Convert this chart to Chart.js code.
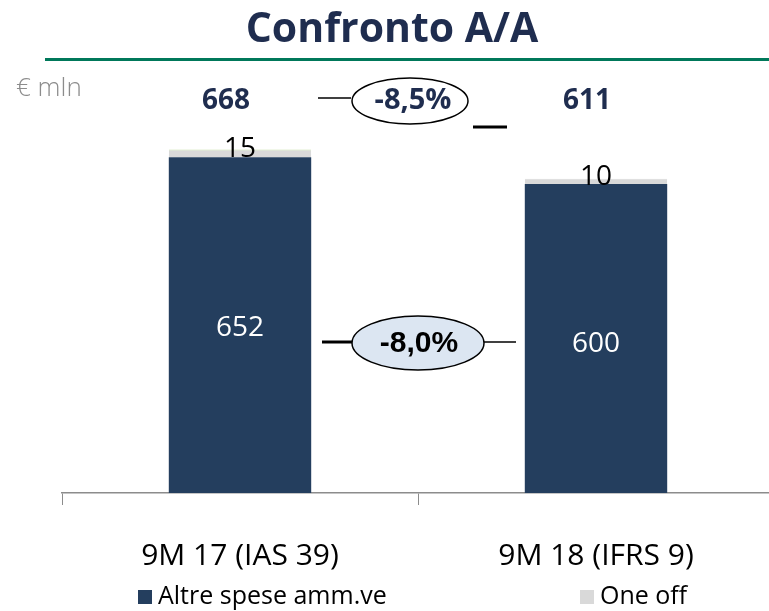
<!DOCTYPE html>
<html lang="it">
<head>
  <meta charset="UTF-8">
  <title>Confronto A/A</title>
  <script src="https://cdn.jsdelivr.net/npm/chart.js"></script>
  <style>
    html, body {
      margin: 0;
      padding: 0;
      background: #ffffff;
      overflow: hidden;
    }
    .wrap {
      width: 780px;
      height: 611px;
    }
  </style>
</head>
<body>
  <div class="wrap">
    <canvas id="chart" width="780" height="611"></canvas>
  </div>

  <script>
    // data
    const categories = ['9M 17 (IAS 39)', '9M 18 (IFRS 9)'];
    const altreSpese = [652, 600];
    const oneOff = [15, 10];
    const totals = [668, 611];
    const deltaTotal = '-8,5%';
    const deltaAltre = '-8,0%';

    const NAVY = '#243e5e';
    const GREY = '#d9d9d9';
    const FONT = '"Open Sans", "DejaVu Sans", sans-serif';

    function ellipse(ctx, x, y, rx, ry, fill) {
      ctx.beginPath();
      ctx.ellipse(x, y, rx, ry, 0, 0, Math.PI * 2);
      ctx.fillStyle = fill;
      ctx.fill();
      ctx.lineWidth = 1.5;
      ctx.strokeStyle = '#000';
      ctx.stroke();
    }

    function line(ctx, x1, y1, x2, y2, w) {
      ctx.beginPath();
      ctx.moveTo(x1, y1);
      ctx.lineTo(x2, y2);
      ctx.lineWidth = w;
      ctx.strokeStyle = '#000';
      ctx.stroke();
    }

    const decorations = {
      id: 'decorations',
      afterDraw(chart) {
        const ctx = chart.ctx;
        const a = chart.getDatasetMeta(0).data;
        const b = chart.getDatasetMeta(1).data;
        ctx.save();

        // title + green rule
        ctx.fillStyle = '#1f2d4f';
        ctx.font = 'bold 41px ' + FONT;
        ctx.textAlign = 'center';
        ctx.textBaseline = 'middle';
        ctx.fillText('Confronto A/A', 392, 30);
        ctx.fillStyle = '#00785a';
        ctx.fillRect(45, 58, 740, 3);

        // unit
        ctx.fillStyle = '#8c8c8c';
        ctx.font = '300 26px ' + FONT;
        ctx.textAlign = 'left';
        ctx.fillText('€ mln', 16, 89);

        // values inside bars
        ctx.textAlign = 'center';
        ctx.font = '28px ' + FONT;
        a.forEach((bar, i) => {
          ctx.fillStyle = '#ffffff';
          ctx.fillText(String(altreSpese[i]), bar.x, (bar.y + bar.base) / 2 + 3 + i * 3);
        });
        b.forEach((bar, i) => {
          ctx.fillStyle = '#000000';
          ctx.fillText(String(oneOff[i]), bar.x, bar.y + (i === 0 ? 0 : -2));
        });

        // totals
        ctx.fillStyle = '#1f2d4f';
        ctx.font = 'bold 28px ' + FONT;
        ctx.fillText(String(totals[0]), a[0].x - 14, 101);
        ctx.fillText(String(totals[1]), a[1].x - 9, 101);

        // -8,5% bubble
        line(ctx, 318, 98, 351, 98, 1.5);
        ellipse(ctx, 410, 101, 58, 23, '#ffffff');
        line(ctx, 473, 127, 507, 127, 3);
        ctx.fillStyle = '#1f2d4f';
        ctx.font = 'bold 29px ' + FONT;
        ctx.fillText(deltaTotal, 413, 101);

        // -8,0% bubble
        line(ctx, 322, 342, 353, 342, 3);
        line(ctx, 483, 342, 516, 342, 1.5);
        ellipse(ctx, 418, 343, 66, 27, '#dce6f2');
        ctx.fillStyle = '#000000';
        ctx.font = 'bold 30px "Liberation Sans", Arial, sans-serif';
        ctx.fillText(deltaAltre, 419, 344);

        // legend
        ctx.font = '25px ' + FONT;
        ctx.textAlign = 'left';
        const items = [
          { x: 138, text: chart.data.datasets[0].label, color: NAVY },
          { x: 580, text: chart.data.datasets[1].label, color: GREY }
        ];
        items.forEach(it => {
          ctx.fillStyle = it.color;
          ctx.fillRect(it.x, 590, 14, 14);
          ctx.fillStyle = '#000000';
          ctx.fillText(it.text, it.x + 20, 597);
        });

        ctx.restore();
      }
    };

    new Chart(document.getElementById('chart'), {
      type: 'bar',
      data: {
        labels: categories,
        datasets: [
          {
            label: 'Altre spese amm.ve',
            data: altreSpese,
            backgroundColor: NAVY,
            borderWidth: 0
          },
          {
            label: 'One off',
            data: oneOff,
            backgroundColor: GREY,
            borderColor: ['#c6e0a8', GREY],
            borderWidth: { top: 1, left: 0, right: 0, bottom: 0 },
            borderSkipped: false
          }
        ]
      },
      options: {
        responsive: false,
        animation: false,
        barPercentage: 0.8,
        categoryPercentage: 0.5,
        layout: {
          padding: { left: 62, right: 6, top: 81, bottom: 4 }
        },
        plugins: {
          legend: { display: false },
          tooltip: { enabled: false }
        },
        scales: {
          x: {
            stacked: true,
            grid: {
              offset: true,
              drawOnChartArea: false,
              tickLength: 12,
              color: '#8c8c8c'
            },
            border: { color: '#8c8c8c', width: 1.5 },
            ticks: {
              color: '#000000',
              font: { family: FONT, size: 30 },
              padding: 33
            }
          },
          y: {
            stacked: true,
            display: false,
            min: 0,
            max: 800
          }
        }
      },
      plugins: [decorations]
    });
  </script>
</body>
</html>
